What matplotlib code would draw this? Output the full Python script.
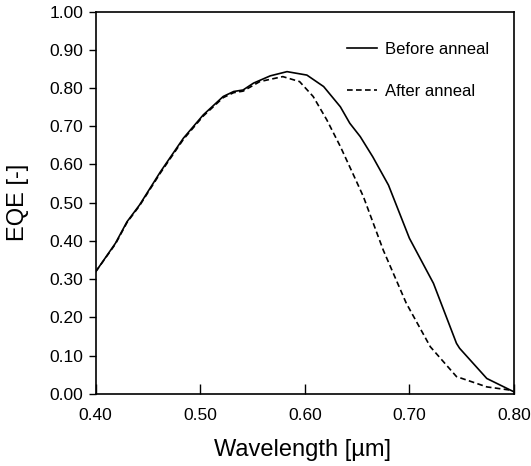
import matplotlib
matplotlib.use("Agg")
import matplotlib.pyplot as plt
from matplotlib.ticker import FormatStrFormatter, MultipleLocator

plt.rcParams["font.family"] = ["Liberation Sans", "DejaVu Sans"]

# External quantum efficiency spectra
wl_before = [0.400, 0.419, 0.430, 0.442, 0.462, 0.484, 0.503, 0.522, 0.532, 0.541,
             0.551, 0.567, 0.583, 0.602, 0.618, 0.634, 0.643, 0.653, 0.665, 0.680,
             0.700, 0.723, 0.745, 0.748, 0.774, 0.800]
eqe_before = [0.319, 0.394, 0.450, 0.494, 0.581, 0.669, 0.730, 0.778, 0.791, 0.795,
              0.813, 0.832, 0.843, 0.834, 0.804, 0.751, 0.708, 0.673, 0.620, 0.546,
              0.407, 0.289, 0.132, 0.119, 0.040, 0.005]

wl_after = [0.400, 0.419, 0.430, 0.442, 0.462, 0.484, 0.503, 0.522, 0.532, 0.541,
            0.557, 0.579, 0.595, 0.608, 0.621, 0.634, 0.648, 0.656, 0.675, 0.697,
            0.720, 0.745, 0.774, 0.798]
eqe_after = [0.319, 0.392, 0.448, 0.492, 0.578, 0.666, 0.727, 0.775, 0.788, 0.792,
             0.817, 0.830, 0.817, 0.778, 0.717, 0.647, 0.564, 0.516, 0.376, 0.237,
             0.123, 0.045, 0.018, 0.009]

labels = ["Before anneal", "After anneal"]

fig = plt.figure(figsize=(5.31, 4.66), dpi=100)
ax = fig.add_axes([0.180, 0.155, 0.788, 0.820])

ax.plot(wl_before, eqe_before, color="black", lw=1.2, label=labels[0])
ax.plot(wl_after, eqe_after, color="black", lw=1.2, dashes=(3.4, 2.0), label=labels[1])

ax.set_xlim(0.40, 0.80)
ax.set_ylim(0.0, 1.0)
ax.xaxis.set_major_locator(MultipleLocator(0.1))
ax.yaxis.set_major_locator(MultipleLocator(0.1))
ax.xaxis.set_major_formatter(FormatStrFormatter("%.2f"))
ax.yaxis.set_major_formatter(FormatStrFormatter("%.2f"))

ax.tick_params(axis="x", direction="in", length=7, width=1.0, pad=10,
               labelsize=12.5, top=False)
ax.tick_params(axis="y", direction="out", length=5, width=1.0, pad=4,
               labelsize=12.5, right=False)
for s in ax.spines.values():
    s.set_linewidth(1.2)

fig.text(303 / 531, 1 - 456 / 466, "Wavelength [\u00b5m]", fontsize=17,
         ha="center", va="baseline")
fig.text(18 / 531, 0.565, "EQE [-]", fontsize=17, rotation=90,
         ha="center", va="center")

ax.legend(loc="upper left", bbox_to_anchor=(0.600, 0.921), frameon=False,
          fontsize=12, handlelength=1.8, handletextpad=0.5, labelspacing=1.6,
          borderpad=0, borderaxespad=0)

fig.savefig("out.png", dpi=100)
